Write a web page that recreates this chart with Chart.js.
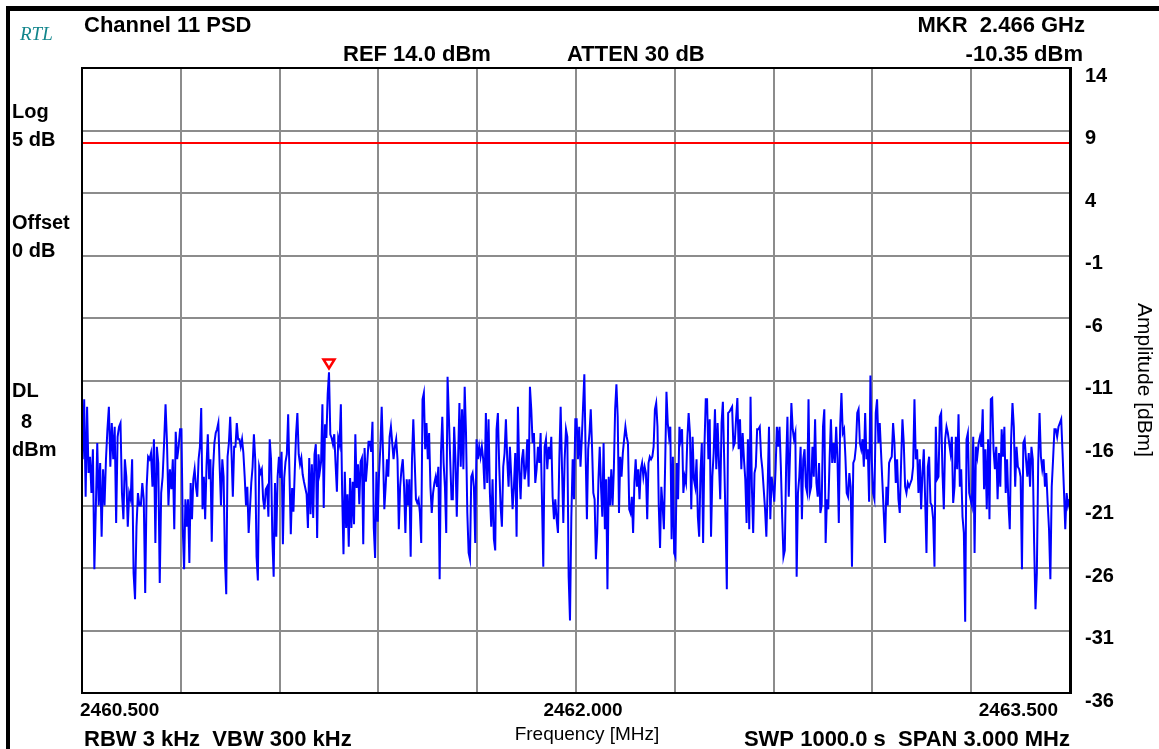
<!DOCTYPE html>
<html>
<head>
<meta charset="utf-8">
<script src="https://cdn.jsdelivr.net/npm/chart.js@4/dist/chart.umd.min.js"></script>
<style>
html, body { margin: 0; padding: 0; background: #fff; }
#ctx { display: block; }
</style>
</head>
<body>
<canvas id="ctx" width="1159" height="749"></canvas>
<script>
// sweep settings
const freqStart = 2460.5;
const freqStop = 2463.5;
const freqLabels = [2460.5, 2462.0, 2463.5];
const ampMin = -36;
const ampMax = 14;
const displayLine = 8;

// trace, one grid division at a time (dBm)
const div0 = [-17.3,-12.5,-20.3,-13.1,-18.4,-17.1,-20,-16.5,-26.1,-21.3,-16,-21,-17.6,-23.5,-18.1,-21,-17.3,-14.9,-13.1,-17.9,-14.4,-17.3,-14.7,-22.4,-15.5,-14.7,-14.4,-20,-22.1,-17.3,-18.7,-22.7,-20,-20.5,-17.3,-26.4,-28.5,-22.7,-20,-21,-21,-19.2,-20.5,-28,-19.5,-17.1,-17.3,-16.8,-19.5,-15.7,-24,-16.3,-17.6,-27.2,-20,-18.7,-16,-12.9,-16,-21,-18.1,-19.7,-17.3,-22.9,-15.1,-17.3,-16.3,-14.9];
const div1 = [-14.9,-22.9,-26.1,-20.5,-22.7,-20.5,-25.6,-19.2,-22.1,-18.9,-18.1,-19.5,-20.3,-17.3,-16.3,-13.2,-21.3,-18.7,-22.1,-17.9,-15.3,-18.9,-17.3,-23.9,-18.1,-16,-15.2,-14.9,-14.4,-17.9,-21,-17.3,-18.7,-25.3,-28.1,-17.1,-16,-13.9,-16.8,-20.3,-16.3,-16.3,-14.4,-15.7,-15.7,-16.3,-15.7,-16.8,-18.7,-21,-19.5,-23.2,-21.3,-19.2,-17.9,-15.3,-17.3,-25.1,-27,-17.9,-18.4,-18.1,-20.5,-21.3,-19.7,-19.5,-21.9,-15.7,-17.3,-23.7,-26.7,-19.2,-23.5,-18.7,-17.1];
const div2 = [-18.8,-16.7,-24.1,-18.8,-17.5,-16.9,-13.7,-18.5,-23.3,-19.6,-21.5,-18.3,-15.3,-13.6,-16.9,-17.7,-17.2,-18.5,-19.1,-19.6,-20.1,-22.8,-17.2,-21.7,-17.7,-22,-16.9,-16.1,-23.6,-16.9,-18.3,-17.5,-12.9,-21.2,-14.5,-15.6,-12.1,-10.35,-15.3,-15.6,-16.1,-15.3,-17.7,-19.9,-15.6,-16.1,-12.9,-20.1,-24.9,-18.3,-22.8,-20.1,-24.3,-18.8,-22.8,-19.1,-22.5,-15.3,-19.6,-17.7,-20.9,-17.5,-17.2,-24.1,-16.4,-19.1,-17.7,-15.9,-15.9,-16.7,-14.3,-22.8,-25.2,-18.3,-22.3];
const div3 = [-18.4,-16.3,-13.1,-16.8,-21.3,-19.5,-17.3,-18.7,-15.5,-14.7,-16,-17.3,-16.3,-15.7,-17.3,-22.9,-19.5,-18.1,-17.3,-19.5,-23.2,-18.9,-21,-18.9,-25.1,-17.3,-14.1,-17.3,-20.5,-20.8,-20.5,-21.6,-24,-12.5,-12,-16.5,-14.4,-17.3,-15.2,-19.5,-21.6,-20,-19.2,-18.7,-19.5,-17.9,-26.9,-16.8,-13.9,-17.6,-19.5,-23.2,-10.7,-13.9,-17.3,-20.5,-20.5,-14.7,-17.3,-21.9,-17.3,-12.8,-17.9,-13.3,-18.1,-11.5,-15.2,-21.6,-24.8,-25.3,-18.7,-18.4,-19.5,-24,-15.7];
const div4 = [-17.3,-16.3,-17.1,-16.3,-17.3,-19.7,-13.6,-19.2,-14.1,-20,-22.7,-18.9,-23.7,-24.6,-14.9,-13.6,-17.9,-21,-22.7,-17.9,-16.8,-14.1,-17.3,-19.5,-16.3,-18.7,-21.3,-19.5,-16.8,-23.5,-13.1,-18.1,-20.5,-17.3,-16.5,-18.9,-18.1,-15.7,-19.5,-11.5,-13.3,-16,-15.2,-19.2,-18.1,-16.3,-17.6,-15.2,-20.5,-25.9,-16.3,-15.7,-18.1,-16.3,-17.3,-15.5,-20.3,-22.1,-20.5,-22.1,-23.2,-17.3,-13.1,-17.9,-22.4,-17.3,-14.9,-15.5,-26.7,-30.2,-22,-17.3,-20.5,-14.1];
const div5 = [-14.1,-17.3,-14.7,-17.9,-15.7,-13.1,-10.5,-16.8,-22.1,-16.5,-15.2,-13.3,-16.3,-20,-20.5,-25.3,-23.2,-18.9,-16.3,-19.5,-21.9,-16,-22.9,-18.9,-27.7,-18.7,-21,-18.1,-21,-18.1,-13.3,-11.3,-13.9,-21.6,-17.1,-18.7,-16.8,-15.7,-14.7,-15.5,-16,-21.3,-21.6,-20.3,-23.2,-19.2,-17.3,-19.5,-18.1,-20.5,-18.1,-17.6,-18.7,-17.9,-18.4,-22.1,-17.6,-17.1,-17.3,-17.1,-16.3,-13.3,-12.8,-14.7,-21,-24.4,-19.5,-21,-22.9,-17.6,-11.9,-14.4,-15.5,-14.7,-23.7,-17.1,-24.8];
const div6 = [-25.1,-17.6,-20.5,-14.7,-15.7,-14.9,-20,-18.7,-19.2,-15.7,-13.6,-15.2,-21.3,-15.5,-18.9,-19.5,-17.3,-21.9,-23.5,-18.4,-16,-24,-16.3,-12.5,-12.5,-17.3,-14.1,-23.5,-18.7,-16.8,-13.3,-18.1,-14.4,-17.6,-20.5,-14.4,-12.7,-17.3,-22.1,-27.7,-13.6,-13.5,-13.3,-13.1,-16.3,-16,-14.1,-12.4,-16.5,-14.1,-18.1,-15.2,-17.3,-18.9,-22.4,-15.7,-22.9,-12.3,-19.5,-23.2,-18.4,-17.9,-14.9,-14.9,-14.7,-17.1,-18.1,-19.7,-21.3,-23.5,-19.5,-14.7,-22.1,-18.7,-19.5];
const div7 = [-20.7,-18.1,-14.7,-16.3,-14.7,-17.9,-21.9,-25.1,-24.6,-17.9,-13.9,-20.3,-16.8,-12.8,-14.9,-15.7,-15.2,-26.7,-20,-18.7,-16.3,-22.1,-17.3,-16.5,-19.5,-20,-12.5,-20,-19.5,-16.3,-18.7,-14.1,-19.2,-20.3,-17.6,-21.6,-21,-14.7,-13.3,-24,-20.5,-21.3,-17.3,-14.1,-17.6,-16,-17.6,-14.7,-17.3,-22.4,-14.7,-12,-15.2,-14.9,-17.1,-20,-20.3,-18.4,-19.5,-25.9,-17.6,-17.3,-16.3,-13.6,-13.3,-16,-16.5,-15.7,-17.9,-13.6,-17.3,-16.5,-20.7,-10.6,-17.3];
const div8 = [-20,-20.5,-13.6,-12.5,-16,-14.4,-16.8,-19.2,-21.6,-24,-19.5,-21,-17.6,-17.3,-17.1,-14.4,-16,-19.2,-17.3,-20.5,-21.6,-17.6,-14.1,-16,-19.5,-20,-19.2,-19.5,-19.2,-18.9,-17.9,-12.5,-17.3,-16.5,-20,-17.3,-21.3,-18.4,-16.5,-20.5,-24.8,-17.9,-17.1,-20.8,-21,-22.1,-25.9,-14.7,-18.9,-18.7,-13.9,-13.6,-18.4,-21.3,-15.7,-14.7,-15.2,-16,-16.8,-15.5,-20.8,-19.5,-15.5,-18.1,-13.7,-19.5,-18.1,-21.9,-23.2,-30.3,-15.7,-15.2,-20,-20.5];
const div9 = [-21,-15.5,-24.8,-16.3,-17.1,-16,-15.5,-16.3,-13.3,-19.7,-16.5,-21.3,-15.7,-22.1,-12.5,-12.4,-16.5,-18.1,-16.3,-20.5,-16.8,-19.5,-14.9,-17.1,-14.7,-20,-17.3,-20.8,-22.9,-15.7,-12.8,-14.7,-19.5,-16.3,-17.9,-18.1,-18.7,-26.1,-16,-15.7,-17.3,-18.7,-16.8,-19.5,-16.3,-17.3,-24,-29.3,-26.4,-17.6,-13.6,-17.1,-18.1,-17.3,-19.5,-18.4,-20.8,-22.9,-26.9,-19.5,-17.3,-14.9,-14.9,-15.5,-14.7,-14.4,-14.1,-16.8,-19.7,-22.9,-20,-21,-20.5];

const segments = [div0, div1, div2, div3, div4, div5, div6, div7, div8, div9];
const divWidth = (freqStop - freqStart) / segments.length;

// spread each division's samples over its own span
let traceData = [];
segments.forEach(function(seg, d) {
    seg.forEach(function(v, j) {
        traceData.push({ x: freqStart + divWidth * (d + (j + 0.5) / seg.length), y: v });
    });
});

const sansFont = 'Liberation Sans, Arial, sans-serif';

function txt(c, s, x, y, font, align, color) {
    c.font = font;
    c.textAlign = align || 'left';
    c.textBaseline = 'alphabetic';
    c.fillStyle = color || '#000';
    c.fillText(s, x, y);
}

const screenPlugin = {
    id: 'screen',
    beforeDraw(chart) {
        const c = chart.ctx;
        c.save();
        c.fillStyle = '#fff';
        c.fillRect(0, 0, chart.width, chart.height);
        c.restore();
    },
    afterDatasetsDraw(chart) {
        // marker on the highest point of the trace
        const c = chart.ctx;
        let peak = traceData[0];
        traceData.forEach(function(p) { if (p.y > peak.y) peak = p; });
        const px = chart.scales.x.getPixelForValue(peak.x);
        const py = chart.scales.y.getPixelForValue(peak.y);
        c.save();
        c.strokeStyle = '#ff0000';
        c.lineWidth = 2.5;
        c.beginPath();
        c.moveTo(px - 5.5, py - 13);
        c.lineTo(px + 5.5, py - 13);
        c.lineTo(px, py - 4);
        c.closePath();
        c.stroke();
        c.restore();
    },
    afterDraw(chart) {
        const c = chart.ctx;
        const a = chart.chartArea;
        const xs = chart.scales.x;
        c.save();

        // screen frame
        c.fillStyle = '#000';
        c.fillRect(6, 6, 1153, 5);
        c.fillRect(6, 6, 4, 743);

        // graticule box
        c.strokeStyle = '#000';
        c.lineWidth = 2;
        c.strokeRect(a.left, a.top, a.right - a.left, a.bottom - a.top);

        const big = 'bold 22px ' + sansFont;
        const mid = 'bold 20px ' + sansFont;

        txt(c, 'RTL', 20, 40, 'italic 19px Liberation Serif, serif', 'left', '#13868c');
        txt(c, 'Channel 11 PSD', 84, 32, big);
        txt(c, 'REF 14.0 dBm', 343, 61, big);
        txt(c, 'ATTEN 30 dB', 567, 61, big);
        txt(c, 'MKR  2.466 GHz', 1085, 32, big, 'right');
        txt(c, '-10.35 dBm', 1083, 61, big, 'right');

        // left side annotations
        txt(c, 'Log', 12, 118, mid);
        txt(c, '5 dB', 12, 146, mid);
        txt(c, 'Offset', 12, 229, mid);
        txt(c, '0 dB', 12, 257, mid);
        txt(c, 'DL', 12, 397, mid);
        txt(c, '8', 21, 428, mid);
        txt(c, 'dBm', 12, 456, mid);

        // frequency labels under the graticule
        const aligns = ['left', 'center', 'right'];
        const shifts = [-2, 7, -12];
        freqLabels.forEach(function(f, i) {
            txt(c, f.toFixed(3), xs.getPixelForValue(f) + shifts[i], 716, 'bold 19px ' + sansFont, aligns[i]);
        });

        txt(c, 'RBW 3 kHz  VBW 300 kHz', 84, 746, big);
        txt(c, 'Frequency [MHz]', 587, 740, '19px ' + sansFont, 'center');
        txt(c, 'SWP 1000.0 s  SPAN 3.000 MHz', 1070, 746, big, 'right');

        // rotated axis title
        c.translate(1138, 380);
        c.rotate(Math.PI / 2);
        txt(c, 'Amplitude [dBm]', 0, 0, '21px ' + sansFont, 'center');

        c.restore();
    }
};

const config = {
    type: 'line',
    data: {
        datasets: [
            {
                label: 'trace',
                data: traceData,
                borderColor: '#0000ff',
                borderWidth: 2,
                pointRadius: 0,
                tension: 0,
                fill: false,
            },
            {
                label: 'display line',
                data: [{ x: freqStart, y: displayLine }, { x: freqStop, y: displayLine }],
                borderColor: '#ff0000',
                borderWidth: 2,
                pointRadius: 0,
                fill: false,
            },
        ]
    },
    options: {
        responsive: false,
        animation: false,
        devicePixelRatio: 1,
        layout: {
            padding: { left: 82, top: 68, right: 0, bottom: 0 }
        },
        plugins: {
            legend: { display: false },
            tooltip: { enabled: false },
        },
        scales: {
            x: {
                type: 'linear',
                min: freqStart,
                max: freqStop,
                ticks: { display: false, stepSize: divWidth },
                grid: { color: '#8c8c8c', lineWidth: 2, drawTicks: false },
                border: { color: '#000', width: 2 },
                afterFit: function(s) { s.height = 56; }
            },
            y: {
                position: 'right',
                min: ampMin,
                max: ampMax,
                ticks: {
                    stepSize: 5,
                    autoSkip: false,
                    padding: 15,
                    labelOffset: 8,
                    color: '#000',
                    font: { family: sansFont, size: 20, weight: 'bold' },
                    callback: function(value) { return String(value); }
                },
                grid: { color: '#8c8c8c', lineWidth: 2, drawTicks: false },
                border: { color: '#000', width: 3 },
                afterFit: function(s) { s.width = 89; }
            }
        }
    },
    plugins: [screenPlugin]
};

const graphChart = new Chart(document.getElementById('ctx').getContext('2d'), config);
</script>
</body>
</html>
